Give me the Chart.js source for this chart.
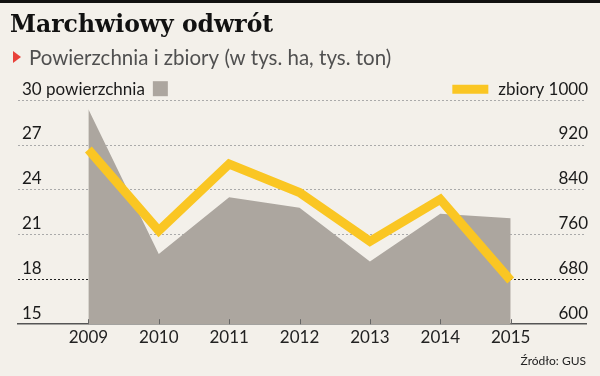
<!DOCTYPE html>
<html lang="pl">
<head>
<meta charset="UTF-8">
<title>Marchwiowy odwrót</title>
<style>
  html, body { margin: 0; padding: 0; background: #f3f0ea; }
  #cvs { display: block; }
</style>
</head>
<body>
<canvas id="cvs" width="600" height="376"></canvas>
<script src="https://cdn.jsdelivr.net/npm/chart.js@4.4.1/dist/chart.umd.min.js"></script>
<script>
// dane
const years = [2009, 2010, 2011, 2012, 2013, 2014, 2015];
const powierzchnia = [29.4, 19.7, 23.5, 22.8, 19.2, 22.4, 22.1];   // tys. ha
const zbiory = [912, 767, 886, 835, 748, 823, 678];               // tys. ton
const leftTicks = [15, 18, 21, 24, 27, 30];
const rightTicks = [600, 680, 760, 840, 920, 1000];

const BG = '#f3f0ea';
const GRAY = '#aca69f';
const YELLOW = '#fac623';
const SANS = 'Lato';

const ctx = document.getElementById('cvs').getContext('2d');

function pts(vals) {
    return years.map((y, i) => ({ x: y, y: vals[i] }));
}

// tlo, czarny pasek, trojkat + podtytul, znaczki legendy
const decor = {
    id: 'decor',
    beforeDraw(chart) {
        const c = chart.ctx;
        c.save();
        c.fillStyle = BG;
        c.fillRect(0, 0, chart.width, chart.height);
        c.fillStyle = '#111';
        c.fillRect(0, 0, chart.width, 3);
        c.restore();
    },
    afterDraw(chart) {
        const c = chart.ctx;
        c.save();
        // podtytul
        c.fillStyle = '#e8413a';
        c.beginPath();
        c.moveTo(13, 51);
        c.lineTo(21, 57);
        c.lineTo(13, 63);
        c.closePath();
        c.fill();
        c.fillStyle = '#505050';
        c.font = '20.5px ' + SANS;
        c.textBaseline = 'alphabetic';
        c.fillText('Powierzchnia i zbiory (w tys. ha, tys. ton)', 29, 65);

        // kreski przy latach
        const xs = chart.scales.x;
        const base = chart.chartArea.bottom;
        c.strokeStyle = '#666';
        c.lineWidth = 1;
        years.forEach(v => {
            const px = Math.round(xs.getPixelForValue(v)) + 0.5;
            c.beginPath();
            c.moveTo(px, base - 5);
            c.lineTo(px, base);
            c.stroke();
        });

        // znaczki przy opisach osi
        const yl = chart.scales.y;
        const top = yl.getPixelForValue(30) - 11;
        c.font = '17px ' + SANS;
        const wl = c.measureText('30 powierzchnia').width;
        c.fillStyle = GRAY;
        c.fillRect(chart.chartArea.left + 4 + wl + 8, top - 8, 15, 15);
        const wr = c.measureText('zbiory 1000').width;
        const xr = chart.chartArea.right - 2 - wr - 6;
        c.strokeStyle = YELLOW;
        c.lineWidth = 9;
        c.beginPath();
        c.moveTo(xr - 36, top);
        c.lineTo(xr, top);
        c.stroke();
        c.restore();
    }
};

new Chart(ctx, {
    type: 'line',
    data: {
        datasets: [{
            label: 'zbiory',
            data: pts(zbiory),
            yAxisID: 'y2',
            borderColor: YELLOW,
            borderWidth: 9,
            pointRadius: 0,
            tension: 0,
            fill: false,
            order: 0
        }, {
            label: 'powierzchnia',
            data: pts(powierzchnia),
            yAxisID: 'y',
            borderWidth: 0,
            borderColor: GRAY,
            backgroundColor: GRAY,
            pointRadius: 0,
            tension: 0,
            fill: 'start',
            order: 1
        }]
    },
    options: {
        responsive: false,
        animation: false,
        layout: { padding: { left: 10, right: 10, top: 0, bottom: 8 } },
        plugins: {
            legend: { display: false },
            tooltip: { enabled: false },
            title: {
                display: true,
                text: 'Marchwiowy odwrót',
                align: 'start',
                color: '#111',
                font: { family: 'DejaVu Serif', weight: 'bold', size: 23.5 },
                padding: { top: 12, bottom: 60 }
            }
        },
        scales: {
            x: {
                type: 'linear',
                min: 2008,
                max: 2016.07,
                afterBuildTicks(s) { s.ticks = years.map(v => ({ value: v })); },
                grid: { display: false, drawTicks: false },
                border: { display: true, color: '#555', width: 1.5 },
                ticks: {
                    color: '#222',
                    font: { family: SANS, size: 17 },
                    padding: 3,
                    callback: v => String(v)
                },
                title: {
                    display: true,
                    text: 'Źródło: GUS',
                    align: 'end',
                    color: '#222',
                    font: { family: SANS, size: 12 },
                    padding: { top: 3, bottom: 0 }
                }
            },
            y: {
                position: 'left',
                min: 15,
                max: 30,
                afterBuildTicks(s) { s.ticks = leftTicks.map(v => ({ value: v })); },
                border: { display: false, dash: [2, 2] },
                grid: {
                    drawTicks: false,
                    color: c => c.tick && c.tick.value === 18 ? '#222' : '#aaa',
                    lineWidth: c => c.tick && c.tick.value === 15 ? 0 : 1
                },
                ticks: {
                    mirror: true,
                    padding: 4,
                    labelOffset: -11,
                    color: '#1a1a1a',
                    font: { family: SANS, size: 17 },
                    callback: v => v === 30 ? '30 powierzchnia' : String(v)
                }
            },
            y2: {
                position: 'right',
                min: 600,
                max: 1000,
                afterBuildTicks(s) { s.ticks = rightTicks.map(v => ({ value: v })); },
                border: { display: false },
                grid: { display: false, drawTicks: false },
                ticks: {
                    mirror: true,
                    padding: 2,
                    labelOffset: -11,
                    color: '#1a1a1a',
                    font: { family: SANS, size: 17 },
                    callback: v => v === 1000 ? 'zbiory 1000' : String(v)
                }
            }
        }
    },
    plugins: [decor]
});
</script>
</body>
</html>
